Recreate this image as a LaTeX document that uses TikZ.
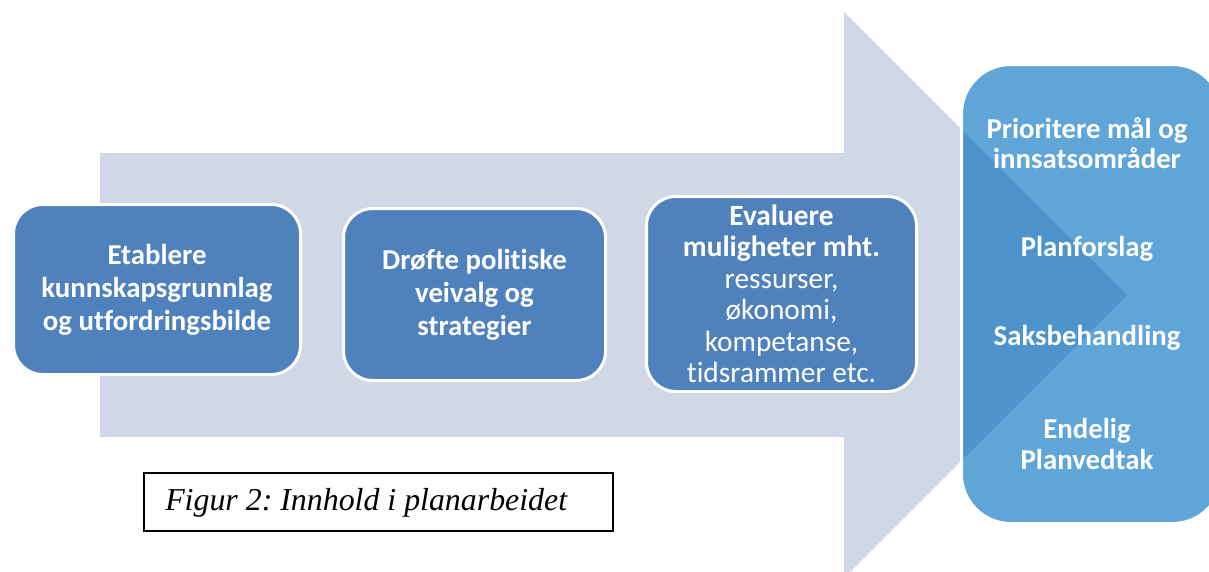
\documentclass[tikz,border=0pt]{standalone}
\usepackage{fontspec}
\setmainfont{Carlito}[Ligatures=NoCommon]
\newfontfamily\capfont{Liberation Serif}
\definecolor{arrowgray}{RGB}{208,215,230}
\definecolor{boxblue}{RGB}{79,129,189}
\definecolor{rightblue}{RGB}{95,165,216}
\definecolor{darkblue}{RGB}{77,148,205}
\tikzset{
  stepbox/.style={draw=white, line width=2.25pt, fill=boxblue, rounded corners=22pt,
    text=white, align=center, inner sep=0pt, font=\fontsize{21.6}{24.7}\selectfont\bfseries},
  rtext/.style={text=white, align=center, inner sep=0pt, font=\fontsize{21.6}{22.8}\selectfont\bfseries},
  captionbox/.style={draw=black, line width=1.1pt, fill=white},
}
\begin{document}
\frenchspacing
\begin{tikzpicture}[x=0.75pt, y=-0.75pt]
\useasboundingbox (0,0) rectangle (1209,571);
\clip (0,0) rectangle (1209,571);
% big arrow
\fill[arrowgray] (100,153) -- (844,153) -- (844,12) -- (1127,295) -- (844,578) -- (844,437) -- (100,437) -- cycle;
% right box
\fill[rightblue, rounded corners=37pt] (961.5,64.5) rectangle (1222,523.5);
\begin{scope}
  \clip[rounded corners=37pt] (961.5,64.5) rectangle (1222,523.5);
  \fill[darkblue] (844,12) -- (1127,295) -- (844,578) -- cycle;
\end{scope}
\draw[white, line width=2.25pt, rounded corners=37pt] (961.5,64.5) rectangle (1222,523.5);
% steps
\node[stepbox, minimum width=215.25pt, minimum height=127.5pt] (b1) at (157,289.5)
  {Etablere\\kunnskapsgrunnlag\\og utfordringsbilde};
\node[stepbox, minimum width=196.5pt, minimum height=129pt] (b2) at (474.5,294.5)
  {Drøfte politiske\\veivalg og\\strategier};
\node[stepbox, minimum width=202.5pt, minimum height=146.25pt,
  font=\fontsize{22}{23.6}\selectfont] (b3) at (781.5,294)
  {\textbf{Evaluere}\\\textbf{muligheter mht.}\\ressurser,\\økonomi,\\kompetanse,\\tidsrammer etc.};
% right box texts
\node[rtext] (r1) at (1087,143) {Prioritere mål og\\innsatsområder};
\node[rtext] (r2) at (1087,249) {Planforslag};
\node[rtext] (r3) at (1087,338) {Saksbehandling};
\node[rtext] (r4) at (1087,444) {Endelig\\Planvedtak};
% caption
\draw[captionbox] (144,473) rectangle (613,531);
\node[anchor=west, inner sep=0pt, font=\capfont\itshape\fontsize{23.9}{26}\selectfont] (cap) at (165,503)
  {Figur 2: Innhold i planarbeidet};
\end{tikzpicture}
\end{document}
